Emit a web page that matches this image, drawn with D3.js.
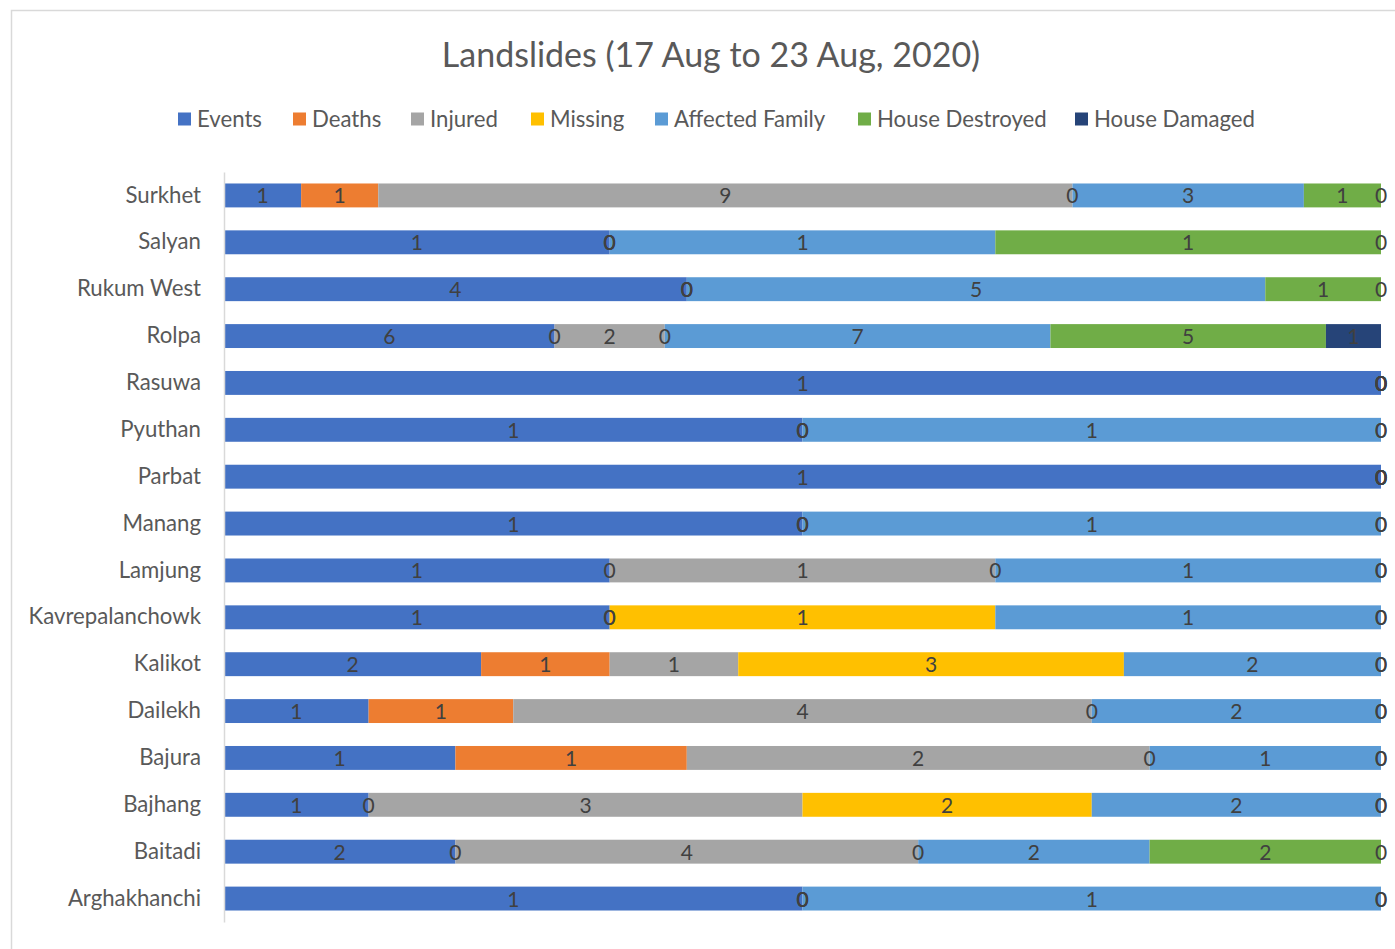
<!DOCTYPE html>
<html>
<head>
<meta charset="utf-8">
<script src="https://cdn.jsdelivr.net/npm/d3@7"></script>
<style>
  html, body { margin: 0; padding: 0; background: #fff; }
  svg { display: block; font-family: Lato, "Open Sans", sans-serif; }
</style>
</head>
<body>
<svg id="chart" width="1395" height="949"></svg>
<script>
// Landslides (17 Aug to 23 Aug, 2020) — 100% stacked bars

const districts = ['Surkhet', 'Salyan', 'Rukum West', 'Rolpa', 'Rasuwa', 'Pyuthan', 'Parbat', 'Manang',
  'Lamjung', 'Kavrepalanchowk', 'Kalikot', 'Dailekh', 'Bajura', 'Bajhang', 'Baitadi', 'Arghakhanchi'];

const seriesNames = ['Events', 'Deaths', 'Injured', 'Missing', 'Affected Family', 'House Destroyed', 'House Damaged'];
const seriesColors = ['#4472C4', '#ED7D31', '#A5A5A5', '#FFC000', '#5B9BD5', '#70AD47', '#264478'];

// one array per series, in district order
const events         = [1, 1, 4, 6, 1, 1, 1, 1, 1, 1, 2, 1, 1, 1, 2, 1];
const deaths         = [1, 0, 0, 0, 0, 0, 0, 0, 0, 0, 1, 1, 1, 0, 0, 0];
const injured        = [9, 0, 0, 2, 0, 0, 0, 0, 1, 0, 1, 4, 2, 3, 4, 0];
const missing        = [0, 0, 0, 0, 0, 0, 0, 0, 0, 1, 3, 0, 0, 2, 0, 0];
const affectedFamily = [3, 1, 5, 7, 0, 1, 0, 1, 1, 1, 2, 2, 1, 2, 2, 1];
const houseDestroyed = [1, 1, 1, 5, 0, 0, 0, 0, 0, 0, 0, 0, 0, 0, 2, 0];
const houseDamaged   = [0, 0, 0, 1, 0, 0, 0, 0, 0, 0, 0, 0, 0, 0, 0, 0];

const seriesValues = [events, deaths, injured, missing, affectedFamily, houseDestroyed, houseDamaged];

// ─── Layout ───────────────────────────────────────────────────────────────────

const W = 1395, H = 949;
const plot = { left: 224, right: 1381, top: 172, bottom: 922 };

const svg = d3.select('#chart');

// chart area border
svg.append('rect')
  .attr('x', 11.5).attr('y', 10.5)
  .attr('width', W + 10).attr('height', H + 10)
  .attr('fill', '#fff')
  .attr('stroke', '#d9d9d9')
  .attr('stroke-width', 1.5);

svg.append('text')
  .attr('x', 711).attr('y', 67)
  .attr('text-anchor', 'middle')
  .attr('font-size', 34)
  .attr('fill', '#595959')
  .text('Landslides (17 Aug to 23 Aug, 2020)');

// ─── Legend ───────────────────────────────────────────────────────────────────

const legendX = [178, 293, 411, 531, 655, 858, 1075];
const legend = svg.append('g').attr('class', 'legend');
seriesNames.forEach((name, i) => {
  const g = legend.append('g').attr('transform', `translate(${legendX[i]},119)`);
  g.append('rect')
    .attr('x', 0).attr('y', -6.5)
    .attr('width', 13).attr('height', 13)
    .attr('fill', seriesColors[i]);
  g.append('text')
    .attr('x', 19).attr('y', 7.5)
    .attr('font-size', 22.2)
    .attr('fill', '#595959')
    .text(name);
});

// ─── Data → stack ─────────────────────────────────────────────────────────────

const rows = districts.map((d, i) => {
  const row = { district: d };
  seriesNames.forEach((s, j) => { row[s] = seriesValues[j][i]; });
  row.total = d3.sum(seriesValues, v => v[i]);
  return row;
});

const stacked = d3.stack()
  .keys(seriesNames)
  .value((d, key) => d[key] / d.total)(rows);

const x = d3.scaleLinear().domain([0, 1]).range([plot.left, plot.right]);
const y = d3.scaleBand()
  .domain(districts)
  .range([plot.top, plot.bottom])
  .paddingInner(0.49)
  .paddingOuter(0.245);

// ─── Bars ─────────────────────────────────────────────────────────────────────

const layers = svg.append('g').attr('class', 'bars')
  .selectAll('g')
  .data(stacked)
  .join('g')
  .attr('fill', (d, i) => seriesColors[i]);

layers.selectAll('rect')
  .data(d => d)
  .join('rect')
  .attr('x', d => x(d[0]))
  .attr('y', d => y(d.data.district))
  .attr('width', d => Math.max(0, x(d[1]) - x(d[0])))
  .attr('height', y.bandwidth());

// ─── Labels ───────────────────────────────────────────────────────────────────

const labels = svg.append('g').attr('class', 'labels')
  .attr('font-size', 21)
  .attr('fill', '#404040')
  .attr('text-anchor', 'middle');

stacked.forEach(layer => {
  layer.forEach(d => {
    labels.append('text')
      .attr('x', x((d[0] + d[1]) / 2))
      .attr('y', y(d.data.district) + y.bandwidth() / 2)
      .attr('dy', '0.38em')
      .text(d.data[layer.key]);
  });
});

// ─── Category axis ────────────────────────────────────────────────────────────

const yAxis = svg.append('g')
  .attr('transform', `translate(${plot.left},0)`)
  .call(d3.axisLeft(y).tickSize(0).tickPadding(23));

yAxis.select('.domain')
  .attr('stroke', '#d9d9d9')
  .attr('stroke-width', 1.5);

yAxis.selectAll('text')
  .attr('font-family', 'Lato, "Open Sans", sans-serif')
  .attr('font-size', 22.2)
  .attr('fill', '#595959');
</script>
</body>
</html>
